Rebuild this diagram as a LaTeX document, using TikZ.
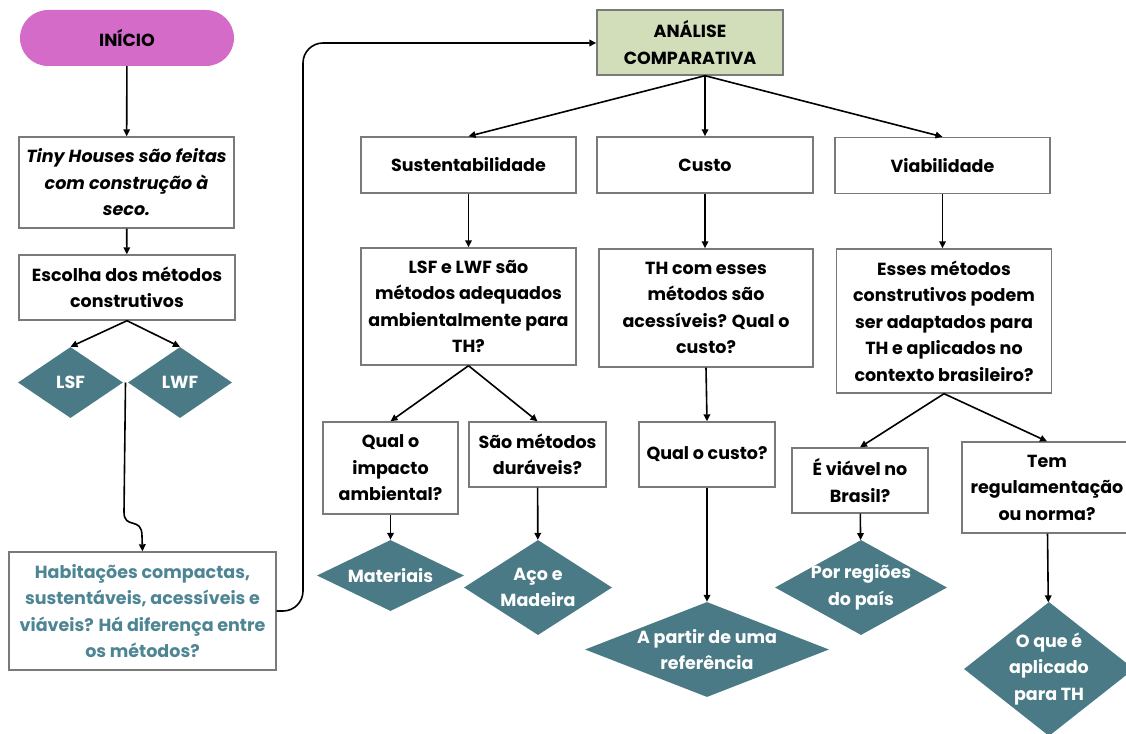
\documentclass[tikz,border=0pt]{standalone}
\usepackage{fontspec}
\setmainfont{Poppins}
\usetikzlibrary{shapes.geometric,arrows.meta,calc}
\definecolor{pinkf}{HTML}{D56BC9}
\definecolor{greenf}{HTML}{D2DEBA}
\definecolor{tealf}{HTML}{4A7A85}
\definecolor{tealt}{HTML}{4E8594}
\definecolor{bordc}{HTML}{7A7A7A}
\begin{document}
\begin{tikzpicture}[x=1pt,y=-1pt,
  txt/.style={font=\fontsize{17.5}{26.5}\selectfont\bfseries},
  box/.style={txt,draw=bordc,line width=1.4pt,fill=white,align=center,inner sep=2pt},
  dia/.style={diamond,fill=tealf,draw=none,inner sep=0pt},
  dlab/.style={txt,text=white,align=center},
  arr/.style={draw=black,line width=1.6pt,-{Triangle[length=7pt,width=6.5pt]}}]
\useasboundingbox (0,0) rectangle (1126,733);
\clip (0,0) rectangle (1126,733);
% left column
\node[txt,fill=pinkf,rounded corners=28pt,minimum width=214pt,minimum height=56pt] (ini) at (127,38) {INÍCIO};
\node[box,minimum width=215pt,minimum height=91pt] (tiny) at (126.5,182.5) {\itshape Tiny Houses são feitas\\\itshape com construção à\\\itshape seco.};
\node[box,minimum width=216pt,minimum height=65pt] (esc) at (127,287.5) {Escolha dos métodos\\construtivos};
\node[dia,minimum width=105pt,minimum height=71pt,label={[dlab]center:LSF}] (lsf) at (70.5,382.5) {};
\node[dia,minimum width=104pt,minimum height=71pt,label={[dlab]center:LWF}] (lwf) at (180,382.5) {};
\node[box,text=tealt,minimum width=267pt,minimum height=118pt] (hab) at (142.5,611) {Habitações compactas,\\sustentáveis, acessíveis e\\viáveis? Há diferença entre\\os métodos?};
% top
\node[box,fill=greenf,minimum width=186pt,minimum height=65pt] (ana) at (690,42.5) {ANÁLISE\\COMPARATIVA};
\node[box,minimum width=215pt,minimum height=56pt] (sus) at (468.5,165) {Sustentabilidade};
\node[box,minimum width=216pt,minimum height=56pt] (cus) at (705,165) {Custo};
\node[box,minimum width=215pt,minimum height=56pt] (via) at (942.5,165.5) {Viabilidade};
\node[box,minimum width=215pt,minimum height=117pt] (lsfq) at (468.5,306.5) {LSF e LWF são\\métodos adequados\\ambientalmente para\\TH?};
\node[box,minimum width=214pt,minimum height=118pt] (thq) at (706,308) {TH com esses\\métodos são\\acessíveis? Qual o\\custo?};
\node[box,minimum width=215pt,minimum height=144pt] (esq) at (944,321) {Esses métodos\\construtivos podem\\ser adaptados para\\TH e aplicados no\\contexto brasileiro?};
% bottom
\node[box,minimum width=135pt,minimum height=92pt] (imp) at (390.5,468) {Qual o\\impacto\\ambiental?};
\node[box,minimum width=137pt,minimum height=65pt] (dur) at (537.5,454.5) {São métodos\\duráveis?};
\node[dia,minimum width=147pt,minimum height=71pt,label={[dlab]center:Materiais}] (mat) at (390.5,575.5) {};
\node[dia,minimum width=148pt,minimum height=95pt,label={[dlab]center:Aço e\\Madeira}] (aco) at (538,587.5) {};
\node[box,minimum width=136pt,minimum height=65pt] (qcu) at (707,454.5) {Qual o custo?};
\node[dia,minimum width=244pt,minimum height=95pt,label={[dlab]center:A partir de uma\\referência}] (ref) at (707,649.5) {};
\node[box,minimum width=136pt,minimum height=65pt] (evb) at (860,480.5) {É viável no\\Brasil?};
\node[box,minimum width=170pt,minimum height=91pt] (tem) at (1047,487.5) {Tem\\regulamentação\\ou norma?};
\node[dia,minimum width=172pt,minimum height=95pt,label={[dlab]center:Por regiões\\do país}] (reg) at (861,587.5) {};
\node[dia,minimum width=170pt,minimum height=134pt,label={[dlab]center:O que é\\aplicado\\para TH}] (oqe) at (1049,669) {};
% connectors
\draw[arr] (ini) -- (tiny);
\draw[arr] (tiny) -- (esc);
\draw[arr] (esc.south) -- (lsf.north);
\draw[arr] (esc.south) -- (lwf.north);
\coordinate (j) at ($(lsf.east)!0.5!(lwf.west)$);
\draw[arr] (j) -- (124,512) .. controls (124,530) and (142,516) .. (142,536) -- (hab.north);
\draw[arr,rounded corners=20pt] (hab.east) -- (303,611) -- (303,43) -- (ana.west |- 0,43);
\coordinate (as) at (ana.south -| cus.north);
\draw[arr] (as) -- (sus.north);
\draw[arr] (as) -- (cus.north);
\draw[arr] (as) -- (via.north);
\draw[arr] (sus) -- (lsfq);
\draw[arr] (cus.south) -- (thq.north -| cus.south);
\draw[arr] (via.south) -- (esq.north -| via.south);
\draw[arr] (lsfq.south) -- (imp.north);
\draw[arr] (lsfq.south) -- (dur.north);
\draw[arr] (imp) -- (mat);
\draw[arr] (dur) -- (aco);
\draw[arr] (thq.south) -- (qcu.north);
\draw[arr] (qcu) -- (ref);
\draw[arr] (esq.south) -- (evb.north);
\draw[arr] (esq.south) -- (tem.north);
\draw[arr] (evb) -- (reg);
\draw[arr] (tem) -- (oqe);
\end{tikzpicture}
\end{document}
